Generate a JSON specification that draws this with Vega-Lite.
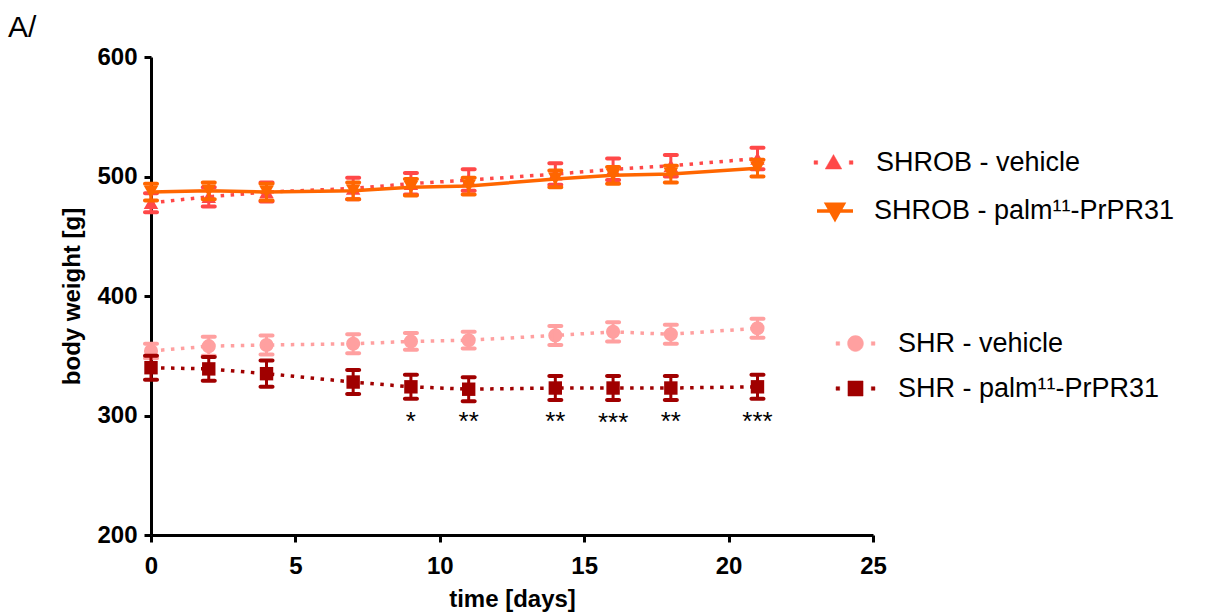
{
  "$schema": "https://vega.github.io/schema/vega-lite/v6.json",
  "width": 722,
  "height": 478,
  "autosize": {"type": "none"},
  "padding": {"left": 151, "top": 57, "right": 332, "bottom": 80},
  "background": "white",
  "title": {"text": "A/", "anchor": "start", "frame": "group", "dx": -143, "dy": 42, "offset": 20, "fontSize": 30, "font": "Liberation Sans", "fontWeight": "normal", "color": "black", "baseline": "alphabetic"},
  "config": {
    "view": {"stroke": null},
    "axis": {"domainColor": "black", "domainWidth": 3, "tickColor": "black", "tickWidth": 3, "tickSize": 7, "labelFont": "Liberation Sans", "labelFontSize": 24, "labelFontWeight": "bold", "labelColor": "black", "titleFont": "Liberation Sans", "titleFontSize": 24, "titleFontWeight": "bold", "titleColor": "black", "grid": false, "labelPadding": 7, "labelFlush": false},
    "legend": {"labelFont": "Liberation Sans", "labelFontSize": 27, "labelColor": "black", "padding": 0, "symbolSize": 1296, "labelOffset": 22, "labelLimit": 500, "title": null, "symbolOpacity": 1, "orient": "none"}
  },
  "datasets": {
    "shrob_v": [
      {"group": "SHROB - vehicle", "day": 0, "mean": 478, "lo": 470, "hi": 486},
      {"group": "SHROB - vehicle", "day": 2, "mean": 483, "lo": 475, "hi": 491},
      {"group": "SHROB - vehicle", "day": 4, "mean": 487, "lo": 479, "hi": 495},
      {"group": "SHROB - vehicle", "day": 7, "mean": 490, "lo": 481, "hi": 499},
      {"group": "SHROB - vehicle", "day": 9, "mean": 494, "lo": 485, "hi": 503},
      {"group": "SHROB - vehicle", "day": 11, "mean": 497, "lo": 488, "hi": 506},
      {"group": "SHROB - vehicle", "day": 14, "mean": 502, "lo": 493, "hi": 511},
      {"group": "SHROB - vehicle", "day": 16, "mean": 506, "lo": 497, "hi": 515},
      {"group": "SHROB - vehicle", "day": 18, "mean": 509, "lo": 500, "hi": 518},
      {"group": "SHROB - vehicle", "day": 21, "mean": 515, "lo": 506, "hi": 524}
    ],
    "shrob_p": [
      {"group": "SHROB - palm¹¹-PrPR31", "day": 0, "mean": 487, "lo": 480, "hi": 494},
      {"group": "SHROB - palm¹¹-PrPR31", "day": 2, "mean": 488, "lo": 481, "hi": 495},
      {"group": "SHROB - palm¹¹-PrPR31", "day": 4, "mean": 487, "lo": 480, "hi": 494},
      {"group": "SHROB - palm¹¹-PrPR31", "day": 7, "mean": 488, "lo": 481, "hi": 495},
      {"group": "SHROB - palm¹¹-PrPR31", "day": 9, "mean": 491, "lo": 484, "hi": 498},
      {"group": "SHROB - palm¹¹-PrPR31", "day": 11, "mean": 492, "lo": 485, "hi": 499},
      {"group": "SHROB - palm¹¹-PrPR31", "day": 14, "mean": 498, "lo": 491, "hi": 505},
      {"group": "SHROB - palm¹¹-PrPR31", "day": 16, "mean": 501, "lo": 494, "hi": 508},
      {"group": "SHROB - palm¹¹-PrPR31", "day": 18, "mean": 502, "lo": 495, "hi": 509},
      {"group": "SHROB - palm¹¹-PrPR31", "day": 21, "mean": 507, "lo": 500, "hi": 514}
    ],
    "shr_v": [
      {"group": "SHR - vehicle", "day": 0, "mean": 354, "lo": 348, "hi": 360},
      {"group": "SHR - vehicle", "day": 2, "mean": 358, "lo": 350, "hi": 366},
      {"group": "SHR - vehicle", "day": 4, "mean": 359, "lo": 351, "hi": 367},
      {"group": "SHR - vehicle", "day": 7, "mean": 360, "lo": 352, "hi": 368},
      {"group": "SHR - vehicle", "day": 9, "mean": 362, "lo": 355, "hi": 369},
      {"group": "SHR - vehicle", "day": 11, "mean": 363, "lo": 356, "hi": 370},
      {"group": "SHR - vehicle", "day": 14, "mean": 367, "lo": 359, "hi": 375},
      {"group": "SHR - vehicle", "day": 16, "mean": 370, "lo": 362, "hi": 378},
      {"group": "SHR - vehicle", "day": 18, "mean": 368, "lo": 360, "hi": 376},
      {"group": "SHR - vehicle", "day": 21, "mean": 373, "lo": 365, "hi": 381}
    ],
    "shr_p": [
      {"group": "SHR - palm¹¹-PrPR31", "day": 0, "mean": 340, "lo": 330, "hi": 350},
      {"group": "SHR - palm¹¹-PrPR31", "day": 2, "mean": 339, "lo": 329, "hi": 349},
      {"group": "SHR - palm¹¹-PrPR31", "day": 4, "mean": 335, "lo": 324, "hi": 346},
      {"group": "SHR - palm¹¹-PrPR31", "day": 7, "mean": 328, "lo": 318, "hi": 338},
      {"group": "SHR - palm¹¹-PrPR31", "day": 9, "mean": 324, "lo": 314, "hi": 334},
      {"group": "SHR - palm¹¹-PrPR31", "day": 11, "mean": 322, "lo": 312, "hi": 332},
      {"group": "SHR - palm¹¹-PrPR31", "day": 14, "mean": 323, "lo": 313, "hi": 333},
      {"group": "SHR - palm¹¹-PrPR31", "day": 16, "mean": 323, "lo": 313, "hi": 333},
      {"group": "SHR - palm¹¹-PrPR31", "day": 18, "mean": 323, "lo": 313, "hi": 333},
      {"group": "SHR - palm¹¹-PrPR31", "day": 21, "mean": 324, "lo": 314, "hi": 334}
    ],
    "sig": [
      {"day": 9, "label": "*", "pos": 288},
      {"day": 11, "label": "**", "pos": 288},
      {"day": 14, "label": "**", "pos": 288},
      {"day": 16, "label": "***", "pos": 287},
      {"day": 18, "label": "**", "pos": 288},
      {"day": 21, "label": "***", "pos": 288}
    ]
  },
  "encoding": {
    "x": {"field": "day", "type": "quantitative", "title": "time [days]", "scale": {"domain": [0, 25], "nice": false, "zero": false}, "axis": {"values": [0, 5, 10, 15, 20, 25], "labelPadding": 12, "titlePadding": 9}}
  },
  "layer": [
    {
      "data": {"name": "shrob_v"},
      "encoding": {
        "color": {"field": "group", "type": "nominal", "scale": {"range": ["#ff4848"]}, "legend": {"legendX": 664, "legendY": 87, "labelOffset": 24, "symbolType": "M-1.08,-0.1h0.2v0.2h-0.2Z M0.88,-0.1h0.2v0.2h-0.2Z M-0.46,0.36L0.46,0.36L0,-0.44Z", "symbolDash": [1, 0], "symbolStrokeWidth": 0.5, "symbolStrokeColor": "#ff4848", "symbolFillColor": "#ff4848"}}
      },
      "layer": [
        {"mark": {"type": "point", "filled": true, "size": 210, "opacity": 1, "shape": "triangle-up"},
         "encoding": {"y": {"field": "mean", "type": "quantitative", "title": "body weight [g]", "scale": {"domain": [200, 600], "nice": false, "zero": false}, "axis": {"values": [200, 300, 400, 500, 600], "titlePadding": 12}}}},
        {"mark": {"type": "line", "strokeWidth": 3.5, "strokeDash": [3.5, 6.5]},
         "encoding": {"y": {"field": "mean", "type": "quantitative", "title": "body weight [g]"}}},
        {"mark": {"type": "rule", "strokeWidth": 3},
         "encoding": {"y": {"field": "lo", "type": "quantitative", "title": "body weight [g]"}, "y2": {"field": "hi"}}},
        {"mark": {"type": "tick", "orient": "horizontal", "size": 16, "thickness": 4, "opacity": 1, "cornerRadius": 2},
         "encoding": {"y": {"field": "lo", "type": "quantitative", "title": "body weight [g]"}}},
        {"mark": {"type": "tick", "orient": "horizontal", "size": 16, "thickness": 4, "opacity": 1, "cornerRadius": 2},
         "encoding": {"y": {"field": "hi", "type": "quantitative", "title": "body weight [g]"}}}
      ]
    },
    {
      "data": {"name": "shrob_p"},
      "encoding": {
        "color": {"field": "group", "type": "nominal", "scale": {"range": ["#ff6600"]}, "legend": {"legendX": 664, "legendY": 134, "labelOffset": 19, "symbolType": "M-1,0L1,0M-0.46,-0.38L0.46,-0.38L0,0.44Z", "symbolDash": [1, 0], "symbolStrokeWidth": 3.5, "symbolStrokeColor": "#ff6600", "symbolFillColor": "#ff6600"}}
      },
      "layer": [
        {"mark": {"type": "point", "filled": true, "size": 210, "opacity": 1, "shape": "triangle-down"},
         "encoding": {"y": {"field": "mean", "type": "quantitative", "title": "body weight [g]"}}},
        {"mark": {"type": "line", "strokeWidth": 3.5},
         "encoding": {"y": {"field": "mean", "type": "quantitative", "title": "body weight [g]"}}},
        {"mark": {"type": "rule", "strokeWidth": 3},
         "encoding": {"y": {"field": "lo", "type": "quantitative", "title": "body weight [g]"}, "y2": {"field": "hi"}}},
        {"mark": {"type": "tick", "orient": "horizontal", "size": 16, "thickness": 4, "opacity": 1, "cornerRadius": 2},
         "encoding": {"y": {"field": "lo", "type": "quantitative", "title": "body weight [g]"}}},
        {"mark": {"type": "tick", "orient": "horizontal", "size": 16, "thickness": 4, "opacity": 1, "cornerRadius": 2},
         "encoding": {"y": {"field": "hi", "type": "quantitative", "title": "body weight [g]"}}}
      ]
    },
    {
      "data": {"name": "shr_v"},
      "encoding": {
        "color": {"field": "group", "type": "nominal", "scale": {"range": ["#ffa0a0"]}, "legend": {"legendX": 686, "legendY": 268, "labelOffset": 24, "symbolType": "M-1.08,-0.1h0.2v0.2h-0.2Z M0.88,-0.1h0.2v0.2h-0.2Z M0.44,0A0.44,0.44 0 1,1 -0.44,0A0.44,0.44 0 1,1 0.44,0Z", "symbolDash": [1, 0], "symbolStrokeWidth": 0.5, "symbolStrokeColor": "#ffa0a0", "symbolFillColor": "#ffa0a0"}}
      },
      "layer": [
        {"mark": {"type": "point", "filled": true, "size": 200, "opacity": 1, "shape": "circle"},
         "encoding": {"y": {"field": "mean", "type": "quantitative", "title": "body weight [g]"}}},
        {"mark": {"type": "line", "strokeWidth": 3.5, "strokeDash": [3.5, 6.5]},
         "encoding": {"y": {"field": "mean", "type": "quantitative", "title": "body weight [g]"}}},
        {"mark": {"type": "rule", "strokeWidth": 3},
         "encoding": {"y": {"field": "lo", "type": "quantitative", "title": "body weight [g]"}, "y2": {"field": "hi"}}},
        {"mark": {"type": "tick", "orient": "horizontal", "size": 16, "thickness": 4, "opacity": 1, "cornerRadius": 2},
         "encoding": {"y": {"field": "lo", "type": "quantitative", "title": "body weight [g]"}}},
        {"mark": {"type": "tick", "orient": "horizontal", "size": 16, "thickness": 4, "opacity": 1, "cornerRadius": 2},
         "encoding": {"y": {"field": "hi", "type": "quantitative", "title": "body weight [g]"}}}
      ]
    },
    {
      "data": {"name": "shr_p"},
      "encoding": {
        "color": {"field": "group", "type": "nominal", "scale": {"range": ["#a00000"]}, "legend": {"legendX": 686, "legendY": 313, "labelOffset": 24, "symbolType": "M-1.08,-0.1h0.2v0.2h-0.2Z M0.88,-0.1h0.2v0.2h-0.2Z M-0.42,-0.42L0.42,-0.42L0.42,0.42L-0.42,0.42Z", "symbolDash": [1, 0], "symbolStrokeWidth": 0.5, "symbolStrokeColor": "#a00000", "symbolFillColor": "#a00000"}}
      },
      "layer": [
        {"mark": {"type": "point", "filled": true, "size": 180, "opacity": 1, "shape": "square"},
         "encoding": {"y": {"field": "mean", "type": "quantitative", "title": "body weight [g]"}}},
        {"mark": {"type": "line", "strokeWidth": 3.5, "strokeDash": [3.5, 6.5]},
         "encoding": {"y": {"field": "mean", "type": "quantitative", "title": "body weight [g]"}}},
        {"mark": {"type": "rule", "strokeWidth": 3},
         "encoding": {"y": {"field": "lo", "type": "quantitative", "title": "body weight [g]"}, "y2": {"field": "hi"}}},
        {"mark": {"type": "tick", "orient": "horizontal", "size": 16, "thickness": 4, "opacity": 1, "cornerRadius": 2},
         "encoding": {"y": {"field": "lo", "type": "quantitative", "title": "body weight [g]"}}},
        {"mark": {"type": "tick", "orient": "horizontal", "size": 16, "thickness": 4, "opacity": 1, "cornerRadius": 2},
         "encoding": {"y": {"field": "hi", "type": "quantitative", "title": "body weight [g]"}}}
      ]
    },
    {
      "data": {"name": "sig"},
      "mark": {"type": "text", "font": "Liberation Sans", "fontSize": 26, "color": "black", "align": "center", "baseline": "alphabetic"},
      "encoding": {
        "y": {"field": "pos", "type": "quantitative", "title": "body weight [g]"},
        "text": {"field": "label", "type": "nominal"}
      }
    }
  ],
  "resolve": {"scale": {"color": "independent"}}
}
